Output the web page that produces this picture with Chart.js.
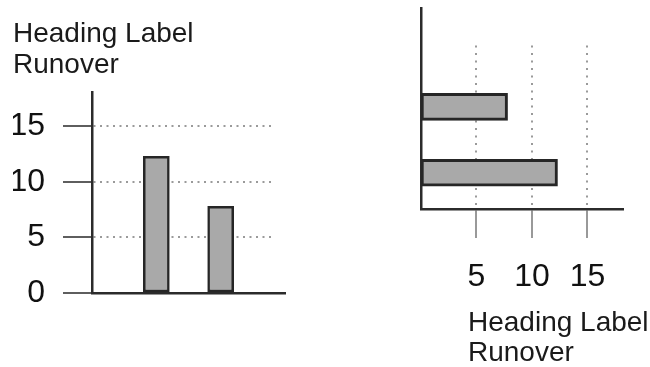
<!DOCTYPE html>
<html><head><meta charset="utf-8">
<script src="https://cdn.jsdelivr.net/npm/chart.js@4/dist/chart.umd.min.js"></script>
<style>
html,body{margin:0;padding:0;background:#fff;}
#wrap{position:relative;width:650px;height:367px;overflow:hidden;background:#fff;}
.box{position:absolute;top:0;height:367px;width:325px;}
#l{left:0}
#r{left:325px}
</style></head><body>
<div id="wrap"><div class="box" id="l"><canvas id="c1"></canvas></div><div class="box" id="r"><canvas id="c2"></canvas></div></div>
<script>
// ---- data ----
const categories = ['A', 'B'];
const values = [12.3, 7.8];
const valueTicks = [0, 5, 10, 15];
const hValueTicks = [5, 10, 15];
const titleLines = ['Heading Label', 'Runover'];

const FONT = "'Liberation Sans', Arial, sans-serif";
Chart.defaults.font.family = FONT;
Chart.defaults.color = '#111';

const FILL = '#a9a9a9', EDGE = '#262626', AXIS = '#2b2b2b', GRID = '#9a9a9a';

const coverPlugin = {
  id: 'cover',
  beforeDatasetsDraw(chart, args, o) {
    const {ctx, chartArea: a} = chart;
    ctx.save();
    ctx.fillStyle = '#fff';
    if (o.axis === 'x') {
      const x0 = chart.scales.x.getPixelForValue(o.value);
      ctx.fillRect(x0, a.top - 3, a.right - x0 + 4, (a.bottom - 2.5) - (a.top - 3));
    } else if (o.axis === 'y') {
      const y0 = chart.scales.y.getPixelForValue(o.value);
      ctx.fillRect(a.left + 2.5, a.top - 3, a.right - a.left + 4, y0 - (a.top - 3));
    }
    ctx.restore();
  }
};

const axisTitlePlugin = {
  id: 'axisTitle',
  afterDraw(chart, args, o) {
    if (!o.lines) return;
    const {ctx, chartArea: a} = chart;
    ctx.save();
    ctx.font = o.size + 'px ' + FONT;
    ctx.fillStyle = o.color;
    ctx.textAlign = 'left';
    ctx.textBaseline = 'alphabetic';
    o.lines.forEach((t, i) => ctx.fillText(t, a.left + o.dx, a.bottom + o.dy + i * o.lineHeight));
    ctx.restore();
  }
};

// ---- left: vertical bars ----
new Chart(document.getElementById('c1'), {
  type: 'bar',
  data: {
    datasets: [{
      data: categories.map((c, i) => ({x: i + 1, y: values[i]})),
      backgroundColor: FILL, borderColor: EDGE, borderWidth: 2.5,
      barThickness: 26, borderSkipped: false
    }]
  },
  options: {
    responsive: true, maintainAspectRatio: false, animation: false,
    layout: {padding: {left: 13, right: 40, top: 0, bottom: 0}},
    plugins: {
      legend: {display: false}, tooltip: {enabled: false},
      title: {display: true, text: titleLines, align: 'start', color: '#1a1a1a',
        font: {size: 28, lineHeight: '31px', weight: 'normal'}, padding: {top: 19, bottom: 11}},
      cover: {axis: 'x', value: 2.8}
    },
    scales: {
      x: {type: 'linear', min: 0, max: 3, offset: false,
        grid: {display: false, offset: false}, ticks: {display: false},
        border: {display: true, color: AXIS, width: 2.5},
        afterFit(s) { s.height = 74; s.paddingLeft = 0; s.paddingRight = 0; }},
      y: {type: 'linear', min: 0, max: 18.1,
        afterBuildTicks(s) { s.ticks = valueTicks.map(v => ({value: v})); },
        grid: {color: GRID, lineWidth: 2, tickLength: 29, tickColor: '#5e5e5e', tickWidth: 2, tickBorderDash: []},
        border: {display: true, color: AXIS, width: 2.5, dash: [2, 4.5]},
        ticks: {padding: 18, color: '#111', font: {size: 32}},
        afterFit(s) { s.width = 79; s.paddingTop = 0; s.paddingBottom = 0; }}
    }
  },
  plugins: [coverPlugin]
});

// ---- right: horizontal bars ----
new Chart(document.getElementById('c2'), {
  type: 'bar',
  data: {
    datasets: [{
      data: categories.map((c, i) => ({x: values[i], y: i + 1})),
      backgroundColor: FILL, borderColor: EDGE, borderWidth: 3,
      barThickness: 27, borderSkipped: false
    }]
  },
  options: {
    indexAxis: 'y',
    responsive: true, maintainAspectRatio: false, animation: false,
    layout: {padding: {left: 96, right: 27, top: 8, bottom: 0}},
    plugins: {
      legend: {display: false}, tooltip: {enabled: false},
      cover: {axis: 'y', value: 3.0},
      axisTitle: {lines: titleLines, size: 28, color: '#1a1a1a', dx: 47, dy: 122, lineHeight: 30}
    },
    scales: {
      y: {type: 'linear', min: 0.45, max: 3.5, offset: false,
        grid: {display: false, offset: false}, ticks: {display: false},
        border: {display: true, color: AXIS, width: 2.5},
        afterFit(s) { s.width = 0; s.paddingTop = 0; s.paddingBottom = 0; }},
      x: {type: 'linear', min: 0, max: 18.2, position: 'bottom',
        afterBuildTicks(s) { s.ticks = hValueTicks.map(v => ({value: v})); },
        grid: {color: GRID, lineWidth: 2, tickLength: 29, tickColor: '#777', tickWidth: 1.5, tickBorderDash: []},
        border: {display: true, color: AXIS, width: 2.5, dash: [2, 5.5]},
        ticks: {padding: 20, color: '#111', font: {size: 32}, maxRotation: 0, autoSkip: false},
        afterFit(s) { s.height = 158; s.paddingLeft = 0; s.paddingRight = 0; }}
    }
  },
  plugins: [coverPlugin, axisTitlePlugin]
});
</script>
</body></html>
